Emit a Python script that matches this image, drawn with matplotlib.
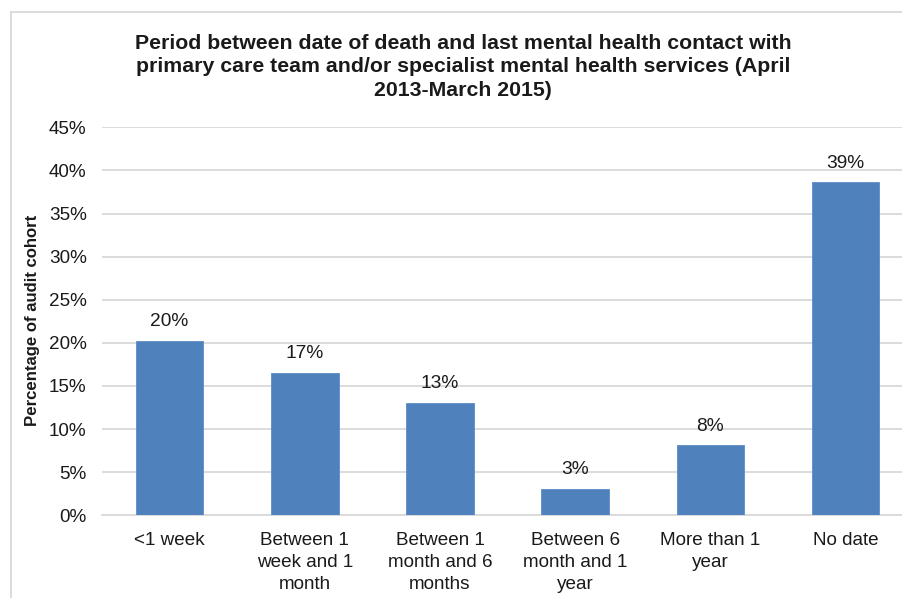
import matplotlib
matplotlib.use("Agg")
import matplotlib.pyplot as plt
from matplotlib.lines import Line2D
from matplotlib.ticker import FuncFormatter, MultipleLocator

categories = ["<1 week", "Between 1\nweek and 1\nmonth", "Between 1\nmonth and 6\nmonths",
              "Between 6\nmonth and 1\nyear", "More than 1\nyear", "No date"]
values = [20.2, 16.5, 13.0, 3.1, 8.1, 38.6]
labels = ["20%", "17%", "13%", "3%", "8%", "39%"]

title = ("Period between date of death and last mental health contact with\n"
         "primary care team and/or specialist mental health services (April\n"
         "2013-March 2015)")

plt.rcParams['font.family'] = ['Liberation Sans', 'DejaVu Sans']

W, H = 902, 598
fig = plt.figure(figsize=(W/100, H/100), dpi=100)
ax = fig.add_axes([102/W, (H-515.3)/H, 800/W, (515.3-127.3)/H])

x = list(range(len(categories)))
bars = ax.bar(x, values, width=0.5, color="#4F81BD", edgecolor="#5B8CC8", linewidth=0.6, zorder=3)
for xi, v, lab in zip(x, values, labels):
    ax.annotate(lab, (xi, v), xytext=(0, 14), textcoords="offset points",
                ha="center", va="center", fontsize=13.8, color="#1a1a1a")

ax.set_ylim(0, 45)
ax.set_xlim(-0.5, -0.5 + 800/135.2)
ax.yaxis.set_major_locator(MultipleLocator(5))
ax.yaxis.set_major_formatter(FuncFormatter(lambda v, p: f"{v:.0f}%"))
ax.grid(axis="y", color="#D9D9D9", linewidth=1.3, zorder=0)
ax.set_axisbelow(True)
for s in ["top", "right", "left"]:
    ax.spines[s].set_visible(False)
ax.spines["bottom"].set_color("#D9D9D9")
ax.spines["bottom"].set_linewidth(1.3)
ax.tick_params(axis="both", length=0, labelsize=13.6, colors="#1a1a1a")
ax.tick_params(axis="y", pad=11)
ax.tick_params(axis="x", pad=12)
ax.set_xticks(x)
ax.set_xticklabels(categories, linespacing=1.37, va="top")

fig.text(33/W, 1 - 320/H, "Percentage of audit cohort", rotation=90, ha="center", va="center",
         fontsize=12.1, fontweight="bold", color="#1a1a1a")

fig.text(463/W, 1 - 67/H, title, ha="center", va="center", fontsize=15.3,
         fontweight="bold", linespacing=1.27, color="#1a1a1a")

fig.add_artist(Line2D([11/W, 11/W], [0, 1 - 12/H], color="#D9D9D9", linewidth=1.3, transform=fig.transFigure))
fig.add_artist(Line2D([11/W, 1], [1 - 12/H, 1 - 12/H], color="#D9D9D9", linewidth=1.3, transform=fig.transFigure))

fig.savefig("out.png", dpi=100, facecolor="white")
